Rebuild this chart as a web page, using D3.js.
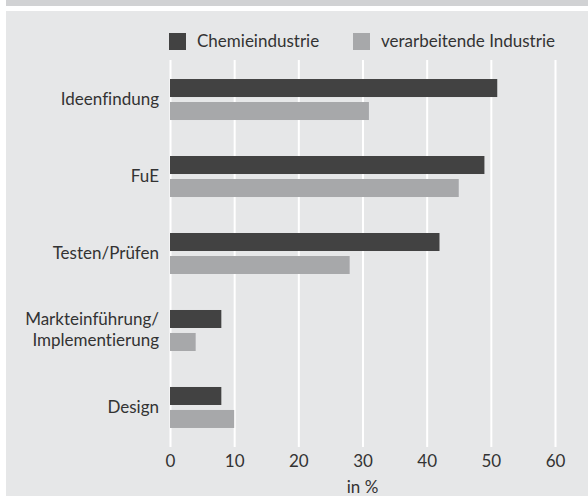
<!DOCTYPE html>
<html>
<head>
<meta charset="utf-8">
<script src="https://cdn.jsdelivr.net/npm/d3@7"></script>
<style>
  body { margin: 0; background: #fff; }
  text { font-family: Lato, "Open Sans", sans-serif; fill: #333; font-variant-ligatures: none; }
</style>
</head>
<body>
<svg id="chart" width="588" height="496"></svg>
<script>
"use strict";

const categories = ["Ideenfindung", "FuE", "Testen/Prüfen", "Markteinführung/\nImplementierung", "Design"];
const seriesNames = ["Chemieindustrie", "verarbeitende Industrie"];
const chemie = [51, 49, 42, 8, 8];
const verarbeitend = [31, 45, 28, 4, 10];
const xTicks = [0, 10, 20, 30, 40, 50, 60];

const colors = ["#424242", "#a7a8aa"];

function makeChart(svg_id) {
    const svg = d3.select(svg_id),
        width = +svg.attr("width"),
        height = +svg.attr("height"),
        fs = 17,
        plot = {left: 170, right: 555, top: 60, bottom: 447},
        x = d3.scaleLinear().domain([0, 60]).range([plot.left, plot.right]),
        y = d3.scaleBand().domain(categories).range([plot.top, plot.bottom])
            .paddingInner(0.4675).paddingOuter(0.247),
        sub = d3.scaleBand().domain(seriesNames).range([0, y.bandwidth()]).paddingInner(0.217);

    // background panels
    svg.append("rect").attr("x", 6).attr("y", 0).attr("width", width - 6).attr("height", 6)
        .attr("fill", "#d1d2d4");
    svg.append("rect").attr("x", 6).attr("y", 11).attr("width", width - 6).attr("height", height - 11)
        .attr("fill", "#e6e7e8");

    // gridlines
    const grid = svg.append("g")
        .attr("transform", `translate(0,${plot.bottom})`)
        .call(d3.axisBottom(x).tickValues(xTicks).tickSize(-(plot.bottom - plot.top)).tickFormat(""));
    grid.select(".domain").remove();
    grid.selectAll("line").attr("stroke", "#fff").attr("stroke-width", 2);

    // bars
    const rows = categories.map((c, i) => ({cat: c, values: [chemie[i], verarbeitend[i]]}));
    const g = svg.selectAll(".row").data(rows).enter().append("g")
        .attr("class", "row")
        .attr("transform", d => `translate(0,${y(d.cat)})`);
    g.selectAll("rect")
        .data(d => d.values.map((v, j) => ({name: seriesNames[j], value: v, j})))
        .enter().append("rect")
        .attr("x", x(0))
        .attr("y", d => sub(d.name))
        .attr("width", d => x(d.value) - x(0))
        .attr("height", sub.bandwidth())
        .attr("fill", d => colors[d.j]);

    // category labels
    g.append("text")
        .attr("x", plot.left - 11)
        .attr("y", y.bandwidth() / 2)
        .attr("text-anchor", "end")
        .attr("font-size", fs)
        .each(function (d) {
            const lines = d.cat.split("\n");
            const t = d3.select(this);
            lines.forEach((ln, k) => {
                t.append("tspan")
                    .attr("x", plot.left - 11)
                    .attr("dy", k === 0 ? (lines.length > 1 ? "-0.35em" : "0.3em") : "1.28em")
                    .text(ln);
            });
        });

    // x axis labels
    const ax = svg.append("g")
        .attr("transform", `translate(0,${plot.bottom})`)
        .call(d3.axisBottom(x).tickValues(xTicks).tickSize(0).tickPadding(8));
    ax.select(".domain").remove();
    ax.selectAll("text").attr("font-size", fs).attr("fill", "#333")
        .style("font-family", "Lato, 'Open Sans', sans-serif");

    svg.append("text")
        .attr("x", x(30))
        .attr("y", 493)
        .attr("text-anchor", "middle")
        .attr("font-size", fs)
        .text("in %");

    // legend
    const legendX = [169, 353];
    const lg = svg.selectAll(".legend").data(seriesNames).enter().append("g")
        .attr("class", "legend")
        .attr("transform", (d, i) => `translate(${legendX[i]},33)`);
    lg.append("rect").attr("width", 17).attr("height", 17).attr("fill", (d, i) => colors[i]);
    lg.append("text").attr("x", 28).attr("y", 14).attr("font-size", fs).text(d => d);
}

makeChart("#chart");
</script>
</body>
</html>
